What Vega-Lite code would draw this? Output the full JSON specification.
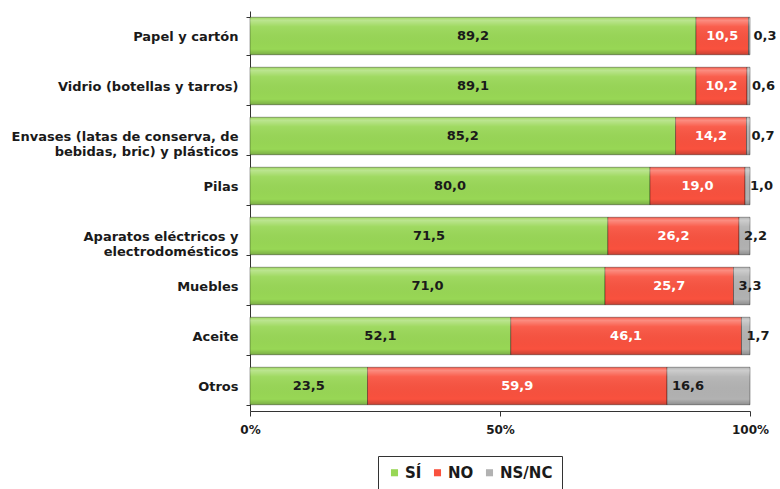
{
  "$schema": "https://vega.github.io/schema/vega-lite/v6.json",
  "width": 500,
  "height": 400,
  "autosize": {"type": "none"},
  "padding": {"left": 250, "top": 11, "right": 30, "bottom": 78},
  "background": "white",
  "config": {
    "view": {"stroke": null},
    "font": "DejaVu Sans",
    "axis": {"labelFont": "DejaVu Sans", "labelFontWeight": "bold", "labelColor": "#1a1a1a"}
  },
  "data": {
    "values": [
      {"cat": "Papel y cartón", "resp": "SÍ", "value": 89.2},
      {"cat": "Papel y cartón", "resp": "NO", "value": 10.5},
      {"cat": "Papel y cartón", "resp": "NS/NC", "value": 0.3},
      {"cat": "Vidrio (botellas y tarros)", "resp": "SÍ", "value": 89.1},
      {"cat": "Vidrio (botellas y tarros)", "resp": "NO", "value": 10.2},
      {"cat": "Vidrio (botellas y tarros)", "resp": "NS/NC", "value": 0.6},
      {"cat": "Envases (latas de conserva, de|bebidas, bric) y plásticos", "resp": "SÍ", "value": 85.2},
      {"cat": "Envases (latas de conserva, de|bebidas, bric) y plásticos", "resp": "NO", "value": 14.2},
      {"cat": "Envases (latas de conserva, de|bebidas, bric) y plásticos", "resp": "NS/NC", "value": 0.7},
      {"cat": "Pilas", "resp": "SÍ", "value": 80.0},
      {"cat": "Pilas", "resp": "NO", "value": 19.0},
      {"cat": "Pilas", "resp": "NS/NC", "value": 1.0},
      {"cat": "Aparatos eléctricos y|electrodomésticos", "resp": "SÍ", "value": 71.5},
      {"cat": "Aparatos eléctricos y|electrodomésticos", "resp": "NO", "value": 26.2},
      {"cat": "Aparatos eléctricos y|electrodomésticos", "resp": "NS/NC", "value": 2.2},
      {"cat": "Muebles", "resp": "SÍ", "value": 71.0},
      {"cat": "Muebles", "resp": "NO", "value": 25.7},
      {"cat": "Muebles", "resp": "NS/NC", "value": 3.3},
      {"cat": "Aceite", "resp": "SÍ", "value": 52.1},
      {"cat": "Aceite", "resp": "NO", "value": 46.1},
      {"cat": "Aceite", "resp": "NS/NC", "value": 1.7},
      {"cat": "Otros", "resp": "SÍ", "value": 23.5},
      {"cat": "Otros", "resp": "NO", "value": 59.9},
      {"cat": "Otros", "resp": "NS/NC", "value": 16.6}
    ]
  },
  "transform": [
    {"calculate": "indexof(['SÍ','NO','NS/NC'], datum.resp)", "as": "ord"},
    {"stack": "value", "groupby": ["cat"], "sort": [{"field": "ord", "order": "ascending"}], "offset": "normalize", "as": ["x0", "x1"]},
    {"calculate": "(datum.x0 + datum.x1) / 2", "as": "mid"},
    {"calculate": "replace(format(datum.value, '.1f'), '.', ',')", "as": "lab"}
  ],
  "encoding": {
    "y": {
      "field": "cat",
      "type": "nominal",
      "sort": ["Papel y cartón", "Vidrio (botellas y tarros)", "Envases (latas de conserva, de|bebidas, bric) y plásticos", "Pilas", "Aparatos eléctricos y|electrodomésticos", "Muebles", "Aceite", "Otros"],
      "scale": {"paddingInner": 0.25, "paddingOuter": 0.125},
      "axis": {
        "title": null,
        "labelExpr": "split(datum.label, '|')",
        "labelFontSize": 13,
        "labelLineHeight": 15,
        "labelPadding": 8,
        "tickBand": "extent",
        "tickSize": 4,
        "tickColor": "#333",
        "domainColor": "#333",
        "labelLimit": 300
      }
    }
  },
  "layer": [
    {
      "mark": {"type": "bar", "stroke": "rgba(0,0,0,0.35)", "strokeWidth": 1},
      "encoding": {
        "x": {
          "field": "x0",
          "type": "quantitative",
          "scale": {"domain": [0, 1], "nice": false},
          "axis": {
            "title": null,
            "values": [0, 0.5, 1],
            "format": ".0%",
            "grid": false,
            "labelFontSize": 12,
            "labelPadding": 8,
            "tickSize": 5,
            "tickColor": "#333",
            "domainColor": "#333",
            "labelFlush": false
          }
        },
        "x2": {"field": "x1"},
        "color": {
          "field": "resp",
          "type": "nominal",
          "scale": {"domain": ["SÍ", "NO", "NS/NC"], "range": ["#98D755", "#F9513E", "#B2B2B2"]},
          "legend": {
            "title": null,
            "orient": "none",
            "legendX": 128,
            "legendY": 445,
            "direction": "horizontal",
            "symbolType": "square",
            "symbolSize": 50,
            "symbolStrokeWidth": 0,
            "labelFont": "DejaVu Sans",
            "labelFontWeight": "bold",
            "labelFontSize": 15,
            "labelColor": "#1a1a1a",
            "columnPadding": 8,
            "labelOffset": 3,
            "strokeColor": "#333",
            "fillColor": "white",
            "padding": 9
          }
        }
      }
    },
    {
      "mark": {
        "type": "bar",
        "color": {
          "gradient": "linear",
          "x1": 0, "y1": 0, "x2": 0, "y2": 1,
          "stops": [
            {"offset": 0, "color": "rgba(255,255,255,0.05)"},
            {"offset": 0.08, "color": "rgba(255,255,255,0.35)"},
            {"offset": 0.25, "color": "rgba(255,255,255,0.08)"},
            {"offset": 0.85, "color": "rgba(0,0,0,0.0)"},
            {"offset": 1, "color": "rgba(0,0,0,0.2)"}
          ]
        }
      },
      "encoding": {
        "x": {"field": "x0", "type": "quantitative"},
        "x2": {"field": "x1"}
      }
    },
    {
      "transform": [{"filter": "datum.resp == 'SÍ'"}],
      "mark": {"type": "text", "font": "DejaVu Sans", "fontWeight": "bold", "fontSize": 13, "color": "#1a1a1a"},
      "encoding": {
        "x": {"field": "mid", "type": "quantitative"},
        "text": {"field": "lab"}
      }
    },
    {
      "transform": [{"filter": "datum.resp == 'NO'"}],
      "mark": {"type": "text", "font": "DejaVu Sans", "fontWeight": "bold", "fontSize": 13, "color": "white"},
      "encoding": {
        "x": {"field": "mid", "type": "quantitative"},
        "text": {"field": "lab"}
      }
    },
    {
      "transform": [{"filter": "datum.resp == 'NS/NC'"}],
      "mark": {"type": "text", "font": "DejaVu Sans", "fontWeight": "bold", "fontSize": 13, "color": "#1a1a1a", "align": "left", "dx": 5},
      "encoding": {
        "x": {"field": "x0", "type": "quantitative"},
        "text": {"field": "lab"}
      }
    }
  ]
}
